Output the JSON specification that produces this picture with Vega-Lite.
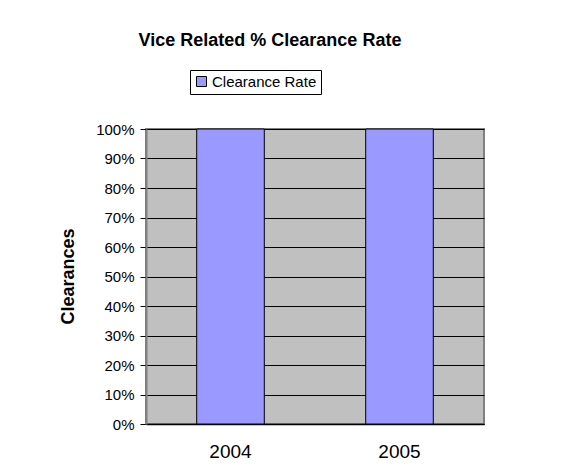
{
  "$schema": "https://vega.github.io/schema/vega-lite/v6.json",
  "width": 338,
  "height": 295,
  "autosize": {"type": "none"},
  "padding": {"left": 146, "top": 129, "right": 84, "bottom": 49},
  "background": "white",
  "title": {
    "text": "Vice Related % Clearance Rate",
    "font": "Liberation Sans",
    "fontSize": 18,
    "fontWeight": "bold",
    "color": "black",
    "anchor": "middle",
    "frame": "group",
    "dx": -45,
    "offset": 20
  },
  "data": {
    "values": [
      {"year": "2004", "rate": 1.0, "series": "Clearance Rate"},
      {"year": "2005", "rate": 1.0, "series": "Clearance Rate"}
    ]
  },
  "mark": {"type": "bar", "stroke": "black", "strokeWidth": 1},
  "encoding": {
    "x": {
      "field": "year",
      "type": "nominal",
      "scale": {"paddingInner": 0.6, "paddingOuter": 0.3},
      "axis": {
        "title": null,
        "labelAngle": 0,
        "ticks": false,
        "labelPadding": 18,
        "labelFontSize": 19,
        "labelFont": "Liberation Sans",
        "labelColor": "black",
        "domainColor": "black",
        "domainWidth": 1.5
      }
    },
    "y": {
      "field": "rate",
      "type": "quantitative",
      "scale": {"domain": [0, 1], "nice": false},
      "axis": {
        "title": "Clearances",
        "titleFont": "Liberation Sans",
        "titleFontSize": 18,
        "titleFontWeight": "bold",
        "titleColor": "black",
        "titleAngle": 270,
        "titleX": -78,
        "titleY": 147,
        "titleAlign": "center",
        "titleBaseline": "middle",
        "format": "%",
        "values": [0, 0.1, 0.2, 0.3, 0.4, 0.5, 0.6, 0.7, 0.8, 0.9, 1.0],
        "labelFont": "Liberation Sans",
        "labelFontSize": 15,
        "labelColor": "black",
        "labelPadding": 6,
        "tickSize": 6,
        "tickColor": "black",
        "domainColor": "#808080",
        "domainWidth": 2,
        "grid": true,
        "gridColor": "black",
        "gridOpacity": 1,
        "gridWidth": 1
      }
    },
    "color": {
      "field": "series",
      "type": "nominal",
      "scale": {"range": ["#9999FF"]},
      "legend": {
        "title": null,
        "orient": "none",
        "legendX": 44,
        "legendY": -59,
        "symbolType": "square",
        "symbolSize": 100,
        "symbolStrokeColor": "black",
        "symbolStrokeWidth": 1,
        "labelFont": "Liberation Sans",
        "labelFontSize": 15,
        "labelColor": "black",
        "labelOffset": 3,
        "strokeColor": "black",
        "fillColor": "white",
        "padding": 4
      }
    }
  },
  "config": {
    "view": {"fill": "#C0C0C0", "stroke": "#808080", "strokeWidth": 2},
    "axis": {"gridColor": "black"}
  }
}
